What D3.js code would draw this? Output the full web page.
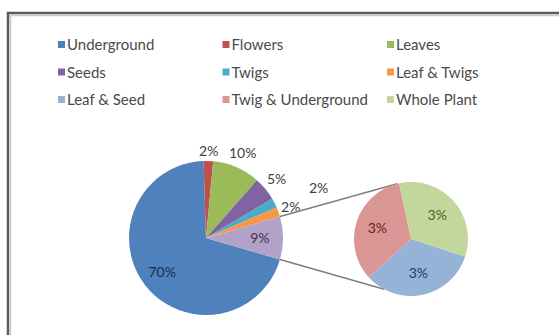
<!DOCTYPE html>
<html>
<head>
<meta charset="utf-8">
<script src="https://cdn.jsdelivr.net/npm/d3@7"></script>
<style>
  body { margin: 0; background: #fff; }
  svg { display: block; font-family: Lato, "Open Sans", sans-serif; }
</style>
</head>
<body>
<div id="chart"></div>
<script>
// Chart data (percent shares)
const categories = ["Underground", "Flowers", "Leaves", "Seeds", "Twigs", "Leaf & Twigs",
                    "Leaf & Seed", "Twig & Underground", "Whole Plant"];
const shares = [70, 2, 10, 5, 2, 2, 3, 3, 3];
// last three are pulled out into the small pie
const splitCount = 3;

const colors = ["#4F81BD", "#C0504D", "#9BBB59", "#8064A2", "#4BACC6", "#F79646",
                "#95B3D7", "#DA9694", "#C3D69B"];
const otherColor = "#B3A2C7";

const width = 559, height = 335;

const svg = d3.select("#chart")
  .append("svg")
  .attr("width", width)
  .attr("height", height);

// Frame (only top and left edges are in view)
svg.append("path")
  .attr("d", `M8,${height} V13 H${width}`)
  .attr("fill", "none").attr("stroke", "#5a5a5a").attr("stroke-width", 2.5);
svg.append("path")
  .attr("d", `M10.5,${height} V15.5 H${width}`)
  .attr("fill", "none").attr("stroke", "#c8c8c8").attr("stroke-width", 1.5);

// Legend, 3 columns
const legendX = d3.scalePoint().domain([0, 1, 2]).range([58, 387]);
const legendY = d3.scalePoint().domain([0, 1, 2]).range([45, 100]);

const legend = svg.append("g")
  .selectAll("g")
  .data(categories)
  .join("g")
    .attr("transform", (d, i) => `translate(${legendX(i % 3)},${legendY(Math.floor(i / 3))})`);

legend.append("rect")
  .attr("x", 0).attr("y", -4)
  .attr("width", 7).attr("height", 7)
  .attr("fill", (d, i) => colors[i]);

legend.append("text")
  .attr("x", 9)
  .attr("dy", "0.35em")
  .attr("font-size", "15px")
  .attr("fill", "#4a4a4a")
  .text(d => d);

// Main pie: first slices plus combined "other"
const mainValues = shares.slice(0, shares.length - splitCount);
const otherTotal = d3.sum(shares.slice(shares.length - splitCount));
mainValues.push(otherTotal);
const mainColors = colors.slice(0, mainValues.length - 1).concat([otherColor]);

const mainCx = 206, mainCy = 238, mainR = 77;
const otherFrac = otherTotal / d3.sum(mainValues);
// put the "other" slice centred on the right-hand side
const mainStart = Math.PI / 2 + otherFrac * Math.PI;

const mainPie = d3.pie().sort(null)
  .startAngle(mainStart)
  .endAngle(mainStart + 2 * Math.PI);
const mainArcs = mainPie(mainValues);
const mainArc = d3.arc().innerRadius(0).outerRadius(mainR);

const gMain = svg.append("g").attr("transform", `translate(${mainCx},${mainCy})`);
gMain.selectAll("path")
  .data(mainArcs)
  .join("path")
    .attr("d", mainArc)
    .attr("fill", (d, i) => mainColors[i]);

// label distance (as fraction of radius) per slice
const mainLabelR = [0.72, 1.13, 1.2, 1.19, 1.6, 1.17, 0.7];
const mainLabelShift = [0, 0, 0, 0, 3, 0, 0];
const labelColor = ["#1c2f4a", "#404040", "#404040", "#404040", "#404040", "#404040", "#3d3150"];

gMain.selectAll("text")
  .data(mainArcs)
  .join("text")
    .attr("transform", (d, i) => {
      const a = (d.startAngle + d.endAngle) / 2 + mainLabelShift[i] * Math.PI / 180;
      const r = mainR * mainLabelR[i];
      return `translate(${r * Math.sin(a)},${-r * Math.cos(a)})`;
    })
    .attr("text-anchor", "middle")
    .attr("dy", "0.35em")
    .attr("font-size", "14px")
    .attr("fill", (d, i) => labelColor[i])
    .text(d => d.data + "%");

// Secondary pie
const subValues = shares.slice(shares.length - splitCount);
const subColors = colors.slice(shares.length - splitCount);
const subCx = 411, subCy = 239, subR = 57;
const subStart = 108 * Math.PI / 180;

const subArcs = d3.pie().sort(null)
  .startAngle(subStart)
  .endAngle(subStart + 2 * Math.PI)(subValues);
const subArc = d3.arc().innerRadius(0).outerRadius(subR);

// Connector lines
const otherArc = mainArcs[mainArcs.length - 1];
const pt = (cx, cy, r, a) => [cx + r * Math.sin(a), cy - r * Math.cos(a)];
const connectors = [
  [pt(mainCx, mainCy, mainR, otherArc.startAngle - 2 * Math.PI), pt(subCx, subCy, subR, -14 * Math.PI / 180)],
  [pt(mainCx, mainCy, mainR, otherArc.endAngle - 2 * Math.PI), pt(subCx, subCy, subR, 208 * Math.PI / 180)]
];
svg.append("g")
  .selectAll("line")
  .data(connectors)
  .join("line")
    .attr("x1", d => d[0][0]).attr("y1", d => d[0][1])
    .attr("x2", d => d[1][0]).attr("y2", d => d[1][1])
    .attr("stroke", "#7f7f7f")
    .attr("stroke-width", 1.5);

const gSub = svg.append("g").attr("transform", `translate(${subCx},${subCy})`);
gSub.selectAll("path")
  .data(subArcs)
  .join("path")
    .attr("d", subArc)
    .attr("fill", (d, i) => subColors[i]);

const subLabelColor = ["#1f3864", "#632523", "#4f6228"];
gSub.selectAll("text")
  .data(subArcs)
  .join("text")
    .attr("transform", d => {
      const a = (d.startAngle + d.endAngle) / 2;
      const r = subR * 0.62;
      return `translate(${r * Math.sin(a)},${-r * Math.cos(a)})`;
    })
    .attr("text-anchor", "middle")
    .attr("dy", "0.35em")
    .attr("font-size", "14px")
    .attr("fill", (d, i) => subLabelColor[i])
    .text(d => d.data + "%");
</script>
</body>
</html>
